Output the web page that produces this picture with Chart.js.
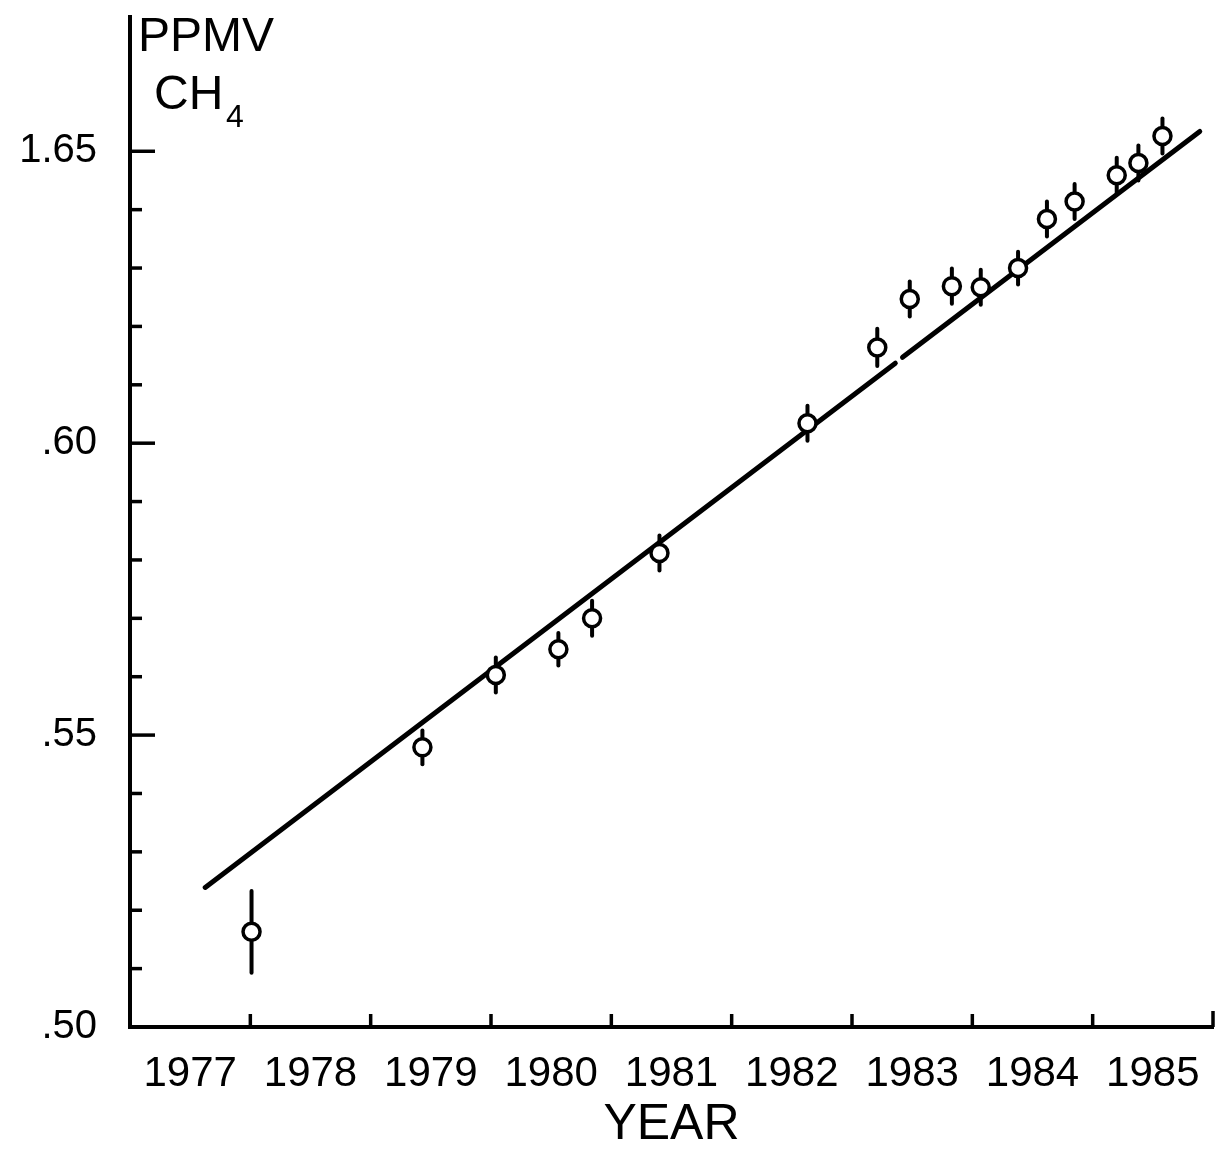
<!DOCTYPE html>
<html>
<head>
<meta charset="utf-8">
<script src="https://cdn.jsdelivr.net/npm/chart.js@4.4.1/dist/chart.umd.min.js"></script>
<style>
  html, body { margin: 0; padding: 0; background: #ffffff; }
  #wrap { width: 1225px; height: 1157px; }
</style>
</head>
<body>
<div id="wrap"><canvas id="c" width="1225" height="1157"></canvas></div>
<script>
// ---- data ----
const years = [1978.01, 1979.43, 1980.04, 1980.56, 1980.84, 1981.40, 1982.63, 1983.21, 1983.48, 1983.83, 1984.07, 1984.38, 1984.62, 1984.85, 1985.20, 1985.38, 1985.58];
const ch4   = [1.5163, 1.5479, 1.5603, 1.5647, 1.5700, 1.5812, 1.6034, 1.6164, 1.6247, 1.6269, 1.6267, 1.6300, 1.6384, 1.6414, 1.6459, 1.6480, 1.6526];
const errs  = [0.0070, 0.0029, 0.0030, 0.0028, 0.0030, 0.0030, 0.0030, 0.0032, 0.0030, 0.0030, 0.0030, 0.0028, 0.0030, 0.0030, 0.0030, 0.0030, 0.0030];
const fitX  = [1977.625, 1983.36, 1983.39, 1983.42, 1985.89];
const fitY  = [1.5239, 1.6137, null, 1.6147, 1.6534];
const yearLabels = ['1977','1978','1979','1980','1981','1982','1983','1984','1985'];
const yearBoundaries = [1978, 1979, 1980, 1981, 1982, 1983, 1984, 1985, 1986];
const yMajorTicks = [1.50, 1.55, 1.60, 1.65];
const yMinorTicks = [1.51, 1.52, 1.53, 1.54, 1.56, 1.57, 1.58, 1.59, 1.61, 1.62, 1.63, 1.64];
const yTickText = ['.50', '.55', '.60', '1.65'];

const FONT = 'Liberation Sans';

const points = years.map((x, i) => ({ x: x, y: ch4[i] }));
const fitLine = fitX.map((x, i) => ({ x: x, y: fitY[i] }));

const errorBars = {
  id: 'errorBars',
  beforeDatasetsDraw(chart) {
    const { ctx, scales: { x, y } } = chart;
    ctx.save();
    ctx.strokeStyle = '#000';
    ctx.lineWidth = 4;
    ctx.lineCap = 'round';
    years.forEach((yr, i) => {
      const px = x.getPixelForValue(yr);
      ctx.beginPath();
      ctx.moveTo(px, y.getPixelForValue(ch4[i] + errs[i]));
      ctx.lineTo(px, y.getPixelForValue(ch4[i] - errs[i]));
      ctx.stroke();
    });
    ctx.restore();
  }
};

const innerTicks = {
  id: 'innerTicks',
  afterDraw(chart) {
    const { ctx, scales: { x, y }, chartArea } = chart;
    ctx.save();
    ctx.strokeStyle = '#000';
    ctx.lineWidth = 3.5;
    const yl = chartArea.left;
    yMajorTicks.forEach(v => {
      const py = y.getPixelForValue(v);
      ctx.beginPath(); ctx.moveTo(yl, py); ctx.lineTo(yl + 25, py); ctx.stroke();
    });
    yMinorTicks.forEach(v => {
      const py = y.getPixelForValue(v);
      ctx.beginPath(); ctx.moveTo(yl, py); ctx.lineTo(yl + 12, py); ctx.stroke();
    });
    const xb = chartArea.bottom;
    yearBoundaries.forEach((v, i) => {
      const px = x.getPixelForValue(v);
      const len = (i === yearBoundaries.length - 1) ? 16 : 13;
      ctx.beginPath(); ctx.moveTo(px, xb); ctx.lineTo(px, xb - len); ctx.stroke();
    });
    // unit label
    ctx.fillStyle = '#000';
    ctx.textBaseline = 'alphabetic';
    ctx.textAlign = 'left';
    ctx.font = '48px "' + FONT + '"';
    ctx.fillText('PPMV', 138, 51);
    ctx.fillText('CH', 154, 109);
    ctx.font = '32px "' + FONT + '"';
    ctx.fillText('4', 226, 127);
    ctx.restore();
  }
};

new Chart(document.getElementById('c'), {
  type: 'scatter',
  data: {
    datasets: [
      {
        type: 'line',
        data: fitLine,
        borderColor: '#000',
        borderWidth: 5,
        borderCapStyle: 'round',
        pointRadius: 0,
        spanGaps: false,
        fill: false,
        order: 2
      },
      {
        data: points,
        pointStyle: 'circle',
        pointRadius: 8.5,
        pointBorderWidth: 3.5,
        pointBackgroundColor: '#fff',
        pointBorderColor: '#000',
        order: 1
      }
    ]
  },
  options: {
    responsive: false,
    animation: false,
    devicePixelRatio: 1,
    layout: { padding: { top: 17, right: 12, left: 0, bottom: 0 } },
    plugins: { legend: { display: false }, tooltip: { enabled: false } },
    scales: {
      x: {
        type: 'linear',
        min: 1977,
        max: 1986,
        afterBuildTicks(scale) {
          scale.ticks = yearLabels.map(l => ({ value: Number(l) + 0.5 }));
        },
        afterFit(scale) {
          scale.height = 130;
          scale.paddingLeft = 0; scale.paddingRight = 0;
          scale.paddingTop = 0; scale.paddingBottom = 0;
        },
        grid: { display: false, drawTicks: false },
        border: { display: true, color: '#000', width: 4 },
        ticks: {
          color: '#000',
          padding: 22,
          maxRotation: 0,
          autoSkip: false,
          font: { family: FONT, size: 42 },
          callback(v) { return String(Math.floor(v)); }
        },
        title: {
          display: true,
          text: 'YEAR',
          color: '#000',
          font: { family: FONT, size: 50 },
          padding: { top: 0, bottom: 2 }
        }
      },
      y: {
        type: 'linear',
        min: 1.50,
        max: 1.673,
        afterBuildTicks(scale) {
          scale.ticks = yMajorTicks.map(v => ({ value: v }));
        },
        afterFit(scale) {
          scale.width = 130;
          scale.paddingLeft = 0; scale.paddingRight = 0;
          scale.paddingTop = 0; scale.paddingBottom = 0;
        },
        grid: { display: false, drawTicks: false },
        border: { display: true, color: '#000', width: 4 },
        ticks: {
          color: '#000',
          padding: 33,
          autoSkip: false,
          font: { family: FONT, size: 40 },
          callback(v) {
            const idx = yMajorTicks.findIndex(t => Math.abs(t - v) < 1e-6);
            return idx >= 0 ? yTickText[idx] : '';
          }
        }
      }
    }
  },
  plugins: [errorBars, innerTicks]
});
</script>
</body>
</html>
